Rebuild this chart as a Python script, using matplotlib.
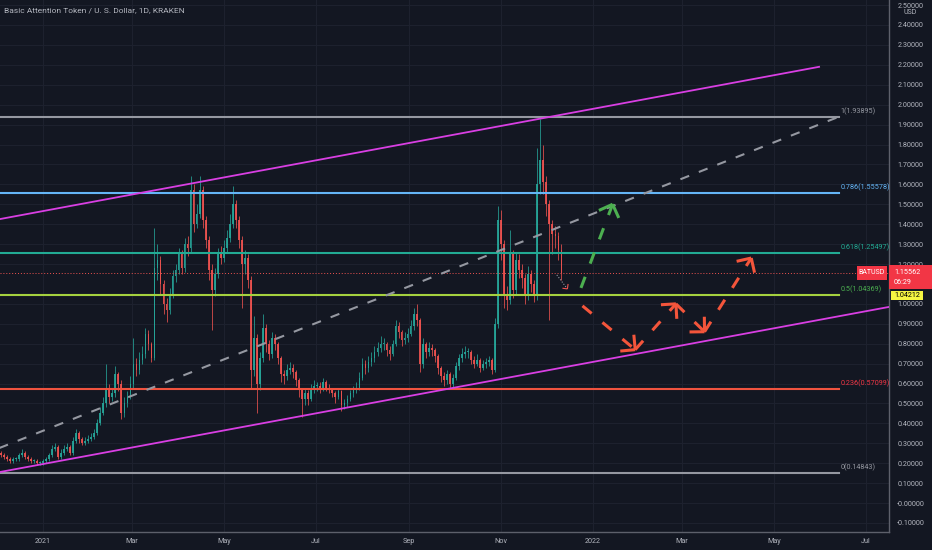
import numpy as np
import pandas as pd
import matplotlib
matplotlib.use("Agg")
import matplotlib.pyplot as plt
import matplotlib.dates as mdates
from matplotlib.patches import Rectangle

# ---------------------------------------------------------------------------
# data (BAT/USD, Kraken) - one candle = 2 days
# ---------------------------------------------------------------------------
first_day = "2020-12-02"
first_open = 0.26

closes = [
    .25, .24, .23, .22, .21, .22, .22, .24, .25, .23,
    .22, .21, .21, .20, .20, .21, .22, .24, .27, .28,
    .23, .25, .27, .28, .25, .31, .35, .32, .30, .31,
    .32, .33, .35, .40, .45, .50, .58, .53, .55, .65,
    .60, .45, .50, .53, .60, .70, .67, .72, .75, .85,
    .80, .73, 1.18, 1.22, 1.10, 1.00, .97, 1.05, 1.14, 1.17,
    1.25, 1.18, 1.30, 1.28, 1.57, 1.40, 1.45, 1.57, 1.42, 1.32,
    1.17, 1.07, 1.15, 1.25, 1.23, 1.28, 1.33, 1.40, 1.50, 1.42,
    1.32, 1.20, 1.23, 1.12, .67, .83, .60, .73, .88, .80,
    .75, .83, .80, .73, .65, .64, .67, .68, .66, .62,
    .57, .52, .55, .52, .57, .59, .59, .58, .61, .58,
    .57, .55, .53, .56, .49, .50, .52, .55, .57, .58,
    .63, .70, .68, .71, .73, .76, .78, .80, .80, .77,
    .75, .80, .89, .86, .82, .83, .85, .89, .95, .92,
    .70, .80, .76, .78, .77, .74, .68, .64, .62, .65,
    .60, .63, .69, .73, .75, .76, .76, .72, .70, .72,
    .68, .70, .71, .72, .67, .90, 1.42, 1.30, 1.05, 1.02,
    1.25, 1.07, 1.22, 1.17, 1.13, 1.04, 1.15, 1.10, 1.04, 1.60,
    1.72, 1.61, 1.50, 1.40, 1.35, 1.34, 1.27, 1.15562,
]
highs = [
    .27, .26, .25, .24, .23, .23, .23, .25, .27, .26,
    .24, .23, .22, .22, .21, .22, .23, .25, .29, .30,
    .29, .27, .29, .30, .29, .33, .37, .36, .33, .33,
    .34, .35, .37, .42, .48, .53, .70, .60, .58, .69,
    .66, .62, .53, .56, .64, .83, .73, .76, .79, .88,
    .87, .81, 1.38, 1.30, 1.24, 1.12, 1.03, 1.08, 1.17, 1.20,
    1.28, 1.27, 1.33, 1.34, 1.64, 1.60, 1.50, 1.64, 1.59, 1.44,
    1.34, 1.20, 1.18, 1.28, 1.29, 1.32, 1.37, 1.45, 1.59, 1.52,
    1.44, 1.34, 1.27, 1.25, 1.14, .94, .85, .76, .95, .90,
    .82, .86, .85, .81, .74, .67, .70, .71, .70, .67,
    .63, .58, .58, .57, .60, .62, .61, .61, .63, .62,
    .60, .58, .56, .58, .57, .52, .54, .57, .59, .61,
    .66, .73, .72, .74, .76, .79, .81, .84, .83, .81,
    .79, .82, .92, .91, .87, .86, .88, .92, .98, 1.00,
    .93, .83, .81, .81, .80, .78, .75, .69, .66, .67,
    .66, .65, .71, .75, .78, .79, .78, .77, .74, .75,
    .73, .72, .73, .74, .73, .93, 1.49, 1.47, 1.32, 1.09,
    1.37, 1.27, 1.26, 1.25, 1.20, 1.15, 1.19, 1.17, 1.12, 1.78,
    1.93, 1.80, 1.64, 1.52, 1.42, 1.39, 1.36, 1.30,
]
lows = [
    .24, .23, .22, .21, .20, .20, .21, .21, .23, .22,
    .21, .20, .20, .19, .19, .19, .20, .21, .23, .26,
    .22, .22, .24, .26, .24, .24, .30, .30, .29, .29,
    .30, .31, .32, .34, .39, .44, .48, .50, .51, .53,
    .56, .42, .43, .48, .52, .58, .64, .65, .70, .73,
    .77, .71, .72, 1.12, 1.05, .95, .91, .95, 1.03, 1.11,
    1.15, 1.15, 1.16, 1.24, 1.26, 1.36, 1.38, 1.43, 1.38, 1.28,
    1.12, .87, 1.04, 1.13, 1.20, 1.21, 1.26, 1.31, 1.38, 1.38,
    1.28, .98, 1.15, 1.08, .58, .64, .45, .57, .71, .76,
    .72, .73, .77, .70, .61, .60, .62, .65, .63, .59,
    .53, .43, .49, .49, .51, .55, .56, .55, .56, .56,
    .55, .53, .50, .52, .46, .47, .48, .51, .53, .55,
    .57, .62, .65, .66, .69, .71, .74, .76, .77, .74,
    .72, .74, .79, .83, .79, .80, .81, .84, .87, .89,
    .66, .68, .73, .74, .74, .71, .65, .61, .59, .60,
    .58, .58, .62, .67, .71, .73, .73, .70, .68, .69,
    .66, .67, .68, .69, .65, .66, .88, 1.22, .98, .97,
    1.00, 1.03, 1.05, 1.13, 1.08, 1.00, 1.02, 1.06, 1.01, 1.02,
    1.55, 1.55, 1.44, .92, 1.25, 1.28, 1.22, 1.12,
]

last_price = 1.15562
countdown = "06:29"
yellow_price = 1.04212

fib_ratios = ["1", "0.786", "0.618", "0.5", "0.236", "0"]
fib_prices = [1.93895, 1.55578, 1.25497, 1.04369, 0.57099, 0.14843]
fib_end = "2022-06-13"

upper_dates = ["2020-12-03", "2022-05-31"]
upper_prices = [1.425, 2.19]
lower_dates = ["2020-12-03", "2022-07-16"]
lower_prices = [0.155, 0.984]
mid_dates = ["2020-12-03", "2022-06-13"]
mid_prices = [0.276, 1.939]

green_dates = ["2021-12-24", "2022-01-14"]
green_prices = [1.08, 1.50]
red_dates = ["2021-12-25", "2022-01-29", "2022-02-25", "2022-03-16", "2022-04-16"]
red_prices = [0.99, 0.77, 1.00, 0.86, 1.23]
small_dates = ["2021-12-08", "2021-12-15"]
small_prices = [1.145, 1.075]

xtick_dates = ["2021-01-01", "2021-03-01", "2021-05-01", "2021-07-01", "2021-09-01",
               "2021-11-01", "2022-01-01", "2022-03-01", "2022-05-01", "2022-07-01"]
xtick_labels = ["2021", "Mar", "May", "Jul", "Sep", "Nov", "2022", "Mar", "May", "Jul"]
ytick_values = [2.5, 2.4, 2.3, 2.2, 2.1, 2.0, 1.9, 1.8, 1.7, 1.6, 1.5, 1.4, 1.3, 1.2,
                1.0, 0.9, 0.8, 0.7, 0.6, 0.5, 0.4, 0.3, 0.2, 0.1, 0.0, -0.1]

# ---------------------------------------------------------------------------
# styling
# ---------------------------------------------------------------------------
BG = "#131722"
GRID = "#1d212e"
TXT = "#b2b5be"
UP = "#26a69a"
DOWN = "#ef5350"
MAGENTA = "#d93fe3"
GRAY = "#9598a1"
fib_colors = [GRAY, "#64b5f6", "#22ab94", "#a5d13f", "#f0533f", GRAY]
fib_text_colors = [GRAY, "#64b5f6", "#22ab94", "#4caf50", "#f23645", GRAY]
plt.rcParams["font.family"] = ["Roboto", "DejaVu Sans"]


def dnum(d):
    return mdates.date2num(pd.to_datetime(d))


W, H = 932, 550
fig = plt.figure(figsize=(W / 100, H / 100), dpi=100, facecolor=BG)
ax = fig.add_axes([0, 18 / H, 889 / W, 532 / H], facecolor=BG)

origin = dnum("2021-01-01")
ax.set_xlim(origin - 28.5, origin + 561.4)
ax.set_ylim(-0.1454, 2.5255)

# grid + axes
ax.set_xticks([dnum(d) for d in xtick_dates])
ax.set_xticklabels(xtick_labels)
ax.set_yticks(ytick_values)
ax.set_yticklabels(["-0.00000" if v == 0 else f"{v:.5f}" for v in ytick_values])
ax.yaxis.tick_right()
ax.tick_params(axis="y", length=0, pad=6, labelsize=5.2, labelcolor=TXT)
ax.tick_params(axis="x", length=0, pad=4, labelsize=5.2, labelcolor=TXT)
ax.grid(color=GRID, lw=0.8, zorder=0)
for s in ["top", "left"]:
    ax.spines[s].set_visible(False)
for s in ["right", "bottom"]:
    ax.spines[s].set_color("#5d606b")
    ax.spines[s].set_linewidth(1.0)

# candles
dates = pd.date_range(first_day, periods=len(closes), freq="2D")
x = mdates.date2num(dates)
c = np.array(closes)
o = np.array([first_open] + closes[:-1])
col = np.where(c >= o, UP, DOWN)
ax.vlines(x, lows, highs, colors=col, lw=0.6, alpha=0.9, zorder=3)
ax.bar(x, np.maximum(np.abs(c - o), 0.004), bottom=np.minimum(o, c), width=1.1,
       color=col, lw=0, alpha=0.9, zorder=3)

# last price line
ax.axhline(last_price, color=DOWN, lw=0.7, ls=(0, (1, 2)), zorder=4)

# fib retracement
xf0, xf1 = ax.get_xlim()[0], dnum(fib_end)
for r, p, lc, tc in zip(fib_ratios, fib_prices, fib_colors, fib_text_colors):
    ax.plot([xf0, xf1], [p, p], color=lc, lw=1.5, zorder=4)
    ax.text(xf1 + 1.5, p + 0.01, f"{r}({p:.5f})", color=tc, fontsize=5.2,
            va="bottom", ha="left", zorder=6, clip_on=False)

# channel + dashed trend
ax.plot([dnum(d) for d in upper_dates], upper_prices, color=MAGENTA, lw=1.3, zorder=5)
ax.plot([dnum(d) for d in lower_dates], lower_prices, color=MAGENTA, lw=1.3, zorder=5)
ax.plot([dnum(d) for d in mid_dates], mid_prices, color=GRAY, lw=1.5,
        dashes=(4.5, 5), zorder=5)


def arrow_head(p_from, p_to, color, length=15, lw=2.2):
    a = ax.transData.transform(p_from)
    b = ax.transData.transform(p_to)
    u = (b - a) / np.hypot(*(b - a))
    for ang in (np.pi / 4, -np.pi / 4):
        rot = np.array([[np.cos(ang), -np.sin(ang)], [np.sin(ang), np.cos(ang)]])
        leg = b - rot @ u * length * fig.dpi / 100
        pts = ax.transData.inverted().transform([b, leg])
        ax.plot(pts[:, 0], pts[:, 1], color=color, lw=lw, solid_capstyle="butt", zorder=6)


def dashed_path(dlist, plist, color):
    xs = [dnum(d) for d in dlist]
    for i in range(len(xs) - 1):
        ax.plot(xs[i:i + 2], plist[i:i + 2], color=color, lw=2.2,
                dashes=(3.9, 4.6), dash_capstyle="butt", zorder=6)
        arrow_head((xs[i], plist[i]), (xs[i + 1], plist[i + 1]), color)


dashed_path(green_dates, green_prices, "#4caf50")
dashed_path(red_dates, red_prices, "#f4553b")

xs_small = [dnum(d) for d in small_dates]
ax.plot(xs_small, small_prices, color=GRAY, lw=0.8, ls=(0, (1, 1.5)), zorder=6)
arrow_head((xs_small[0], small_prices[0]), (xs_small[1], small_prices[1]),
           DOWN, length=5, lw=0.8)

# right axis labels
yt = ax.get_yaxis_transform()
px = 1 / 889
ppu = 532 / (2.5255 + 0.1454)  # pixels per price unit
ax.add_patch(Rectangle((1.0, last_price - 16 / ppu), 43 * px, 24 / ppu, transform=yt,
                       facecolor="#f23645", lw=0, clip_on=False, zorder=7))
ax.text(1.0 + 5 * px, last_price, f"{last_price:.5f}", transform=yt, color="white",
        fontsize=5.2, va="center", ha="left", zorder=8, clip_on=False)
ax.text(1.0 + 5 * px, last_price - 10 / ppu, countdown, transform=yt, color="white",
        fontsize=5.2, va="center", ha="left", zorder=8, clip_on=False)
ax.add_patch(Rectangle((1 - 32 * px, last_price - 7 / ppu), 30 * px, 14 / ppu, transform=yt,
                       facecolor="#f23645", lw=0, clip_on=False, zorder=7))
ax.text(1 - 17 * px, last_price, "BATUSD", transform=yt, color="white",
        fontsize=5, va="center", ha="center", zorder=8, clip_on=False)
ax.add_patch(Rectangle((1.0 + 2 * px, yellow_price - 5 / ppu), 32 * px, 9 / ppu, transform=yt,
                       facecolor="#f5f542", lw=0, clip_on=False, zorder=7))
ax.text(1.0 + 5 * px, yellow_price - 0.5 / ppu, f"{yellow_price:.5f}", transform=yt,
        color="black", fontsize=5.2, va="center", ha="left", zorder=8, clip_on=False)

fig.text(910 / W, 1 - 13 / H, "USD", color=TXT, fontsize=5, ha="center", va="center")

# title
fig.text(4 / W, 1 - 10 / H, "Basic Attention Token / U. S. Dollar, 1D, KRAKEN",
         color=TXT, fontsize=6, ha="left", va="center")

fig.savefig("out.png", dpi=100, facecolor=BG)
